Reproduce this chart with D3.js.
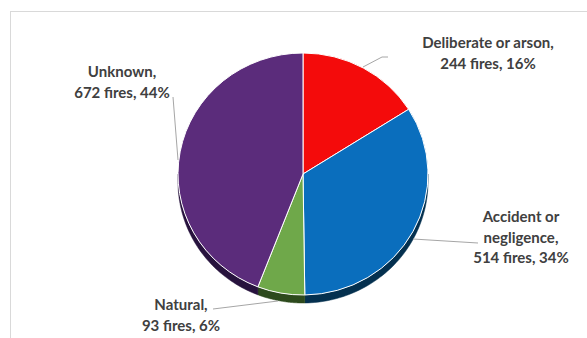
<!DOCTYPE html>
<html>
<head>
<meta charset="utf-8">
<script src="https://cdn.jsdelivr.net/npm/d3@7"></script>
<style>
html,body{margin:0;padding:0;background:#fff;}
svg{display:block;}
</style>
</head>
<body>
<svg id="chart" width="587" height="338"></svg>
<script>
// ---- data ----
const categories = ["Deliberate or arson", "Accident or negligence", "Natural", "Unknown"];
const fires = [244, 514, 93, 672];
const percents = [16, 34, 6, 44];
const labelNameLines = [["Deliberate or arson,"], ["Accident or", "negligence,"], ["Natural,"], ["Unknown,"]];

// ---- style / layout ----
const topColors = ["#f40b0b", "#0a6ebd", "#6fa84a", "#5b2c7b"];
const sideColors = ["#7a0606", "#04304f", "#2d4a1d", "#27123d"];
const cx = 303, cy = 174, rx = 125, ry = 121, depth = 8;
const labelLayout = [
  {x: 488, y: 48, leader: [[363, 67], [382, 57], [388, 57]]},
  {x: 521, y: 222, leader: [[413, 239], [478, 243]]},
  {x: 181, y: 310, leader: [[278, 301], [213, 309]]},
  {x: 122, y: 77, leader: [[178, 160], [173, 97]]}
];

const svg = d3.select("#chart");

svg.append("rect")
  .attr("x", 10.5).attr("y", 11.5).attr("width", 700).attr("height", 500)
  .attr("fill", "none").attr("stroke", "#d9d9d9").attr("stroke-width", 1);

const pie = d3.pie().sort(null).value(d => d);
const arcsData = pie(fires);

const sideG = svg.append("g");
arcsData.forEach((d, i) => {
  const s = Math.max(d.startAngle, Math.PI / 2);
  const e = Math.min(d.endAngle, 3 * Math.PI / 2);
  if (s >= e) return;
  const n = 60;
  const angs = d3.range(n + 1).map(k => s + (e - s) * k / n);
  const topPts = angs.map(a => [cx + rx * Math.sin(a), cy - ry * Math.cos(a)]);
  const botPts = angs.slice().reverse().map(a => [cx + rx * Math.sin(a), cy - ry * Math.cos(a) + depth]);
  sideG.append("path")
    .attr("d", d3.line()(topPts.concat(botPts)) + "Z")
    .attr("fill", sideColors[i])
    .attr("stroke", sideColors[i]).attr("stroke-width", 0.5);
});

const arc = d3.arc().innerRadius(0).outerRadius(rx);
svg.append("g")
  .attr("transform", `translate(${cx},${cy}) scale(1,${ry / rx})`)
  .selectAll("path")
  .data(arcsData)
  .join("path")
  .attr("d", arc)
  .attr("fill", (d, i) => topColors[i])
  .attr("stroke", "#ffffff")
  .attr("stroke-width", 1)
  .attr("vector-effect", "non-scaling-stroke");

svg.append("g")
  .selectAll("path")
  .data(labelLayout)
  .join("path")
  .attr("d", d => d3.line()(d.leader))
  .attr("fill", "none")
  .attr("stroke", "#a6a6a6")
  .attr("stroke-width", 1);

const lblG = svg.append("g")
  .attr("font-family", "Lato, 'Open Sans', sans-serif")
  .attr("font-weight", "bold")
  .attr("font-size", 15)
  .attr("fill", "#404040")
  .attr("text-anchor", "middle");

categories.forEach((c, i) => {
  const lines = labelNameLines[i].concat([`${fires[i]} fires, ${percents[i]}%`]);
  const t = lblG.append("text").attr("x", labelLayout[i].x).attr("y", labelLayout[i].y);
  lines.forEach((ln, j) => {
    t.append("tspan").attr("x", labelLayout[i].x).attr("dy", j === 0 ? 0 : 20.5).text(ln);
  });
});
</script>
</body>
</html>
